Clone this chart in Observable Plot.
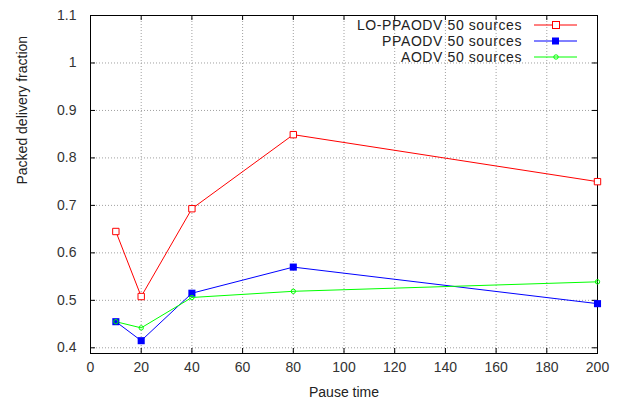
<!DOCTYPE html>
<html><head><meta charset="utf-8">
<script src="https://cdn.jsdelivr.net/npm/d3@7"></script>
<script src="https://cdn.jsdelivr.net/npm/@observablehq/plot@0.6"></script>
<style>body{margin:0;background:#fff}#chart{width:618px;height:403px}</style>
</head><body><div id="chart"></div>
<script>
const pauseTimes = [10, 20, 40, 80, 200];
const loPpaodv = [0.645, 0.508, 0.693, 0.849, 0.750];
const ppaodv = [0.455, 0.415, 0.515, 0.570, 0.493];
const aodv = [0.455, 0.442, 0.506, 0.519, 0.539];
const seriesNames = ["LO-PPAODV 50 sources", "PPAODV 50 sources", "AODV 50 sources"];
const seriesColors = ["#ff0000", "#0000ff", "#00ff00"];
const xTicks = [0, 20, 40, 60, 80, 100, 120, 140, 160, 180, 200];
const yTicks = [0.4, 0.5, 0.6, 0.7, 0.8, 0.9, 1.0, 1.1];
const xLabel = "Pause time";
const yLabel = "Packed delivery fraction";

const seriesValues = [loPpaodv, ppaodv, aodv];
const data = seriesValues.flatMap((vals, i) =>
  vals.map((v, j) => ({series: seriesNames[i], x: pauseTimes[j], y: v})));
const bySeries = name => data.filter(d => d.series === name);

const W = 618, H = 403;
const mL = 90, mR = 21, mT = 15, mB = 50;
const fw = W - mL - mR, fh = H - mT - mB;
const font = "'Liberation Sans', Arial, sans-serif";
const grid = {stroke: "#a0a0a0", strokeWidth: 1, strokeDasharray: "1,2"};

const chart = Plot.plot({
  width: W, height: H,
  marginLeft: mL, marginRight: mR, marginTop: mT, marginBottom: mB,
  style: {fontFamily: font, fontSize: "14px", color: "#222", background: "#fff"},
  x: {domain: [0, 200], ticks: xTicks},
  y: {domain: [0.388, 1.1], ticks: yTicks},
  marks: [
    Plot.ruleX(xTicks.slice(1, -1), grid),
    Plot.ruleY(yTicks.slice(0, -1), grid),
    Plot.ruleX(xTicks, {stroke: "#000", insetTop: fh - 5}),
    Plot.ruleX(xTicks, {stroke: "#000", insetBottom: fh - 5}),
    Plot.ruleY(yTicks, {stroke: "#000", insetRight: fw - 5}),
    Plot.ruleY(yTicks, {stroke: "#000", insetLeft: fw - 5}),
    Plot.frame({stroke: "#000", strokeWidth: 1}),
    Plot.axisX(xTicks, {tickSize: 0, tickPadding: 9, label: null, fill: "#333"}),
    Plot.axisY(yTicks, {tickSize: 0, tickPadding: 14, label: null, fill: "#333", tickFormat: d => String(+d.toFixed(1))}),
    Plot.text([xLabel], {frameAnchor: "bottom", dy: 39, lineAnchor: "middle", fill: "#222", fontSize: 14}),
    Plot.text([yLabel], {frameAnchor: "left", dx: -68, rotate: -90, lineAnchor: "middle", fill: "#222", fontSize: 14}),
    Plot.line(bySeries(seriesNames[0]), {x: "x", y: "y", stroke: seriesColors[0], strokeWidth: 1}),
    Plot.line(bySeries(seriesNames[1]), {x: "x", y: "y", stroke: seriesColors[1], strokeWidth: 1}),
    Plot.line(bySeries(seriesNames[2]), {x: "x", y: "y", stroke: seriesColors[2], strokeWidth: 1}),
    Plot.dot(bySeries(seriesNames[0]), {x: "x", y: "y", symbol: "square", r: 3.6, stroke: seriesColors[0], fill: "#fff", strokeWidth: 1}),
    Plot.dot(bySeries(seriesNames[1]), {x: "x", y: "y", symbol: "square", r: 4, fill: seriesColors[1], stroke: "none"}),
    Plot.dot(bySeries(seriesNames[2]), {x: "x", y: "y", r: 2.2, stroke: seriesColors[2], fill: "none", strokeWidth: 1})
  ]
});

// legend inside the frame, top right
const svg = d3.select(chart);
const lg = svg.append("g").attr("font-family", font).attr("font-size", 14);
seriesNames.forEach((name, i) => {
  const cy = 25 + i * 16;
  lg.append("text").attr("x", 522).attr("y", cy).attr("dy", "0.35em")
    .attr("text-anchor", "end").attr("fill", "#222").attr("letter-spacing", "0.6px").text(name);
  lg.append("line").attr("x1", 534).attr("x2", 577).attr("y1", cy).attr("y2", cy)
    .attr("stroke", seriesColors[i]).attr("stroke-width", 1);
  if (i === 0) lg.append("rect").attr("x", 552.5).attr("y", cy - 3.5).attr("width", 7).attr("height", 7)
    .attr("fill", "#fff").attr("stroke", seriesColors[i]);
  if (i === 1) lg.append("rect").attr("x", 552).attr("y", cy - 3.5).attr("width", 7).attr("height", 7)
    .attr("fill", seriesColors[i]);
  if (i === 2) lg.append("circle").attr("cx", 556).attr("cy", cy).attr("r", 2.2)
    .attr("fill", "none").attr("stroke", seriesColors[i]);
});
document.getElementById("chart").appendChild(chart);
</script>
</body></html>
